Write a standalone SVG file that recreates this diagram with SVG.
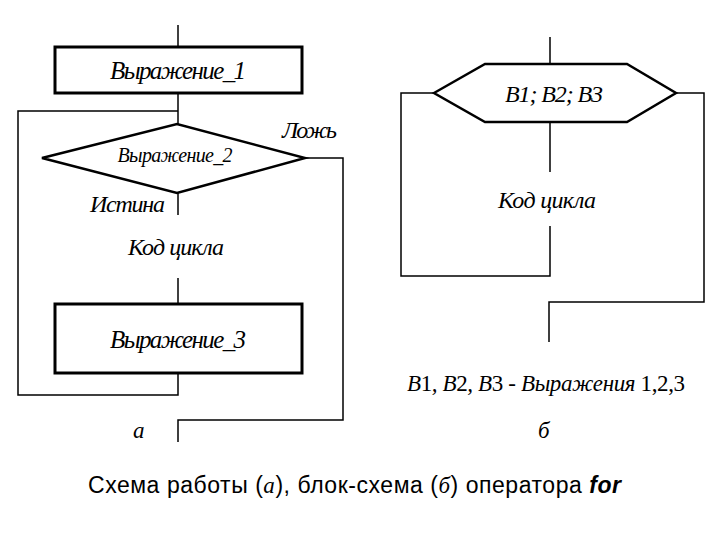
<svg xmlns="http://www.w3.org/2000/svg" width="720" height="540" viewBox="0 0 720 540">
<style>
.ln{fill:none;stroke:#000;stroke-width:1.5}
.bx{fill:#fff;stroke:#000;stroke-width:3}
.dm{fill:#fff;stroke:#000;stroke-width:2.5;stroke-linejoin:miter}
.t{font-family:"Liberation Serif","Times New Roman",serif;font-style:italic;fill:#000}
.r{font-style:normal}
.cap{font-family:"Liberation Sans",Arial,sans-serif;font-size:23px;fill:#000}
</style>
<rect width="720" height="540" fill="#fff"/>
<g id="connectors">
<polyline class="ln" points="178,25 178,47"/>
<polyline class="ln" points="178,93 178,124"/>
<polyline class="ln" points="178,111 18,111 18,395 178,395 178,373"/>
<polyline class="ln" points="305,158 343,158 343,420 178,420 178,442"/>
<polyline class="ln" points="178,193 178,215"/>
<polyline class="ln" points="178,278 178,304"/>
<polyline class="ln" points="550,37 550,64"/>
<polyline class="ln" points="550,122 550,172"/>
<polyline class="ln" points="434,93 401,93 401,276 550,276 550,226"/>
<polyline class="ln" points="676,93 704,93 704,302 549,302 549,342"/>
</g>
<g id="expr1">
<rect class="bx" x="55" y="47" width="247" height="46"/>
<text class="t" x="178" y="79" font-size="25" text-anchor="middle" textLength="136">Выражение_1</text>
</g>
<g id="cond">
<polygon class="dm" points="42,158 177,124 305,158 177,193"/>
<text class="t" x="175" y="162" font-size="20" text-anchor="middle" textLength="115">Выражение_2</text>
<text class="t" x="282" y="138" font-size="24" textLength="55">Ложь</text>
<text class="t" x="90" y="212" font-size="24" textLength="75">Истина</text>
</g>
<g id="body-a">
<text class="t" x="128" y="255" font-size="24" textLength="96">Код цикла</text>
</g>
<g id="expr3">
<rect class="bx" x="55" y="304" width="247" height="69"/>
<text class="t" x="178" y="348" font-size="25" text-anchor="middle" textLength="136">Выражение_3</text>
</g>
<g id="label-a">
<text class="t" x="133" y="438" font-size="23">а</text>
</g>
<g id="for-head">
<polygon class="dm" points="434,93 485,64 627,64 676,93 627,122 485,122"/>
<text class="t" x="505" y="102" font-size="24" textLength="98">В1; В2; В3</text>
</g>
<g id="body-b">
<text class="t" x="498" y="208" font-size="24" textLength="98">Код цикла</text>
</g>
<g id="legend">
<text class="t" x="407" y="391" font-size="23" textLength="278">В<tspan class="r">1</tspan>, В<tspan class="r">2</tspan>, В<tspan class="r">3</tspan> - Выражения <tspan class="r">1,2,3</tspan></text>
</g>
<g id="label-b">
<text class="t" x="538" y="438" font-size="23">б</text>
</g>
<g id="caption">
<text class="cap" x="88" y="493" textLength="533">Схема работы (<tspan class="t">а</tspan>), блок-схема (<tspan class="t">б</tspan>) оператора <tspan font-weight="bold" font-style="italic">for</tspan></text>
</g>
</svg>
